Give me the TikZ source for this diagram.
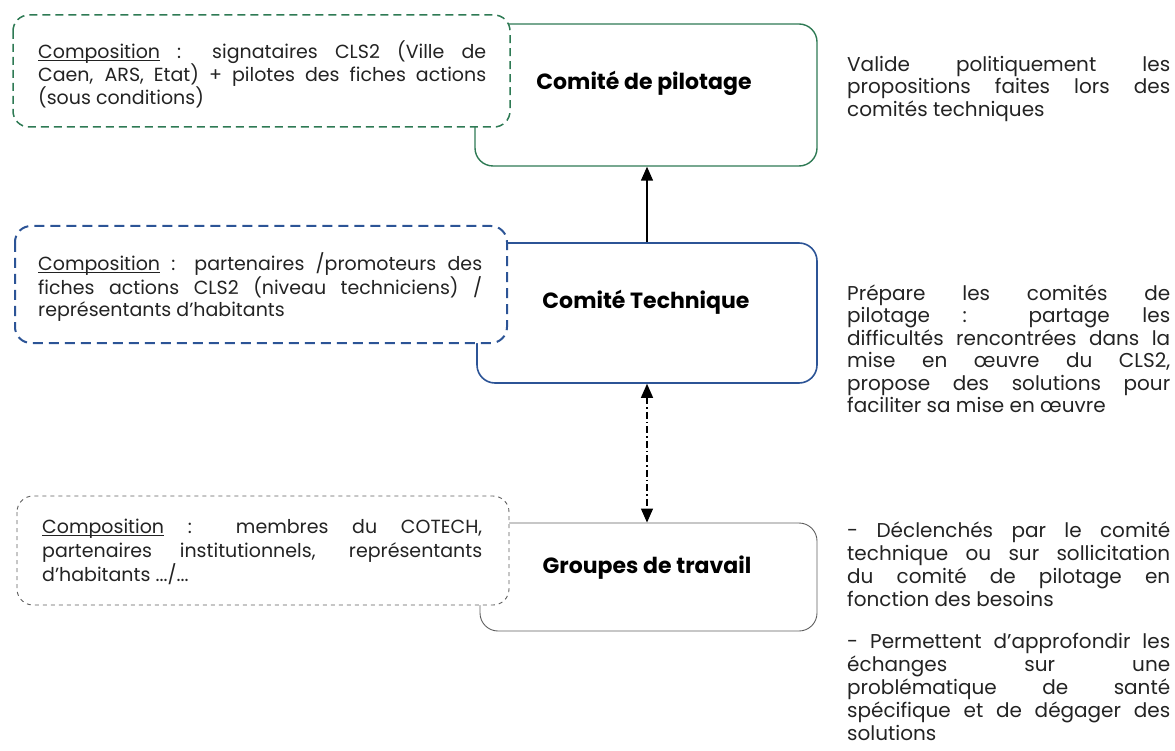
\documentclass[tikz,border=0pt]{standalone}
\usepackage{fontspec}
\setmainfont{Poppins}
\usetikzlibrary{arrows.meta}
\definecolor{cgreen}{RGB}{46,122,84}
\definecolor{cblue}{RGB}{44,84,150}
\definecolor{cgrey}{RGB}{95,95,95}
\definecolor{ctext}{RGB}{35,35,35}
\newcommand{\jl}[2]{\makebox[#1][s]{#2}}
\newcommand{\topstrut}{\rule{0pt}{20pt}}
\newcommand{\ulc}[1]{\setbox0=\hbox{#1}\rlap{\rule[-3pt]{\wd0}{0.8pt}}\box0\relax}
\begin{document}
\begin{tikzpicture}[x=1pt,y=-1pt,
  body/.style={inner sep=0pt, anchor=north west, align=left, text=ctext,
    font=\fontsize{19}{23}\selectfont},
  rbody/.style={body, font=\fontsize{20}{22.5}\selectfont},
  label/.style={inner sep=0pt, text=black, font=\fontsize{22}{26}\selectfont\bfseries},
  solidbox/.style={draw, rounded corners=18pt, inner sep=0pt},
  dashbox/.style={draw, rounded corners=16pt, fill=white},
  uparrow/.style={-{Triangle[length=14pt,width=12pt]}, line width=1.4pt, black},
  dasharrow/.style={{Triangle[length=14pt,width=12pt]}-{Triangle[length=14pt,width=12pt]},
    line width=1.3pt, black, dash pattern=on 7pt off 3pt on 1.5pt off 3pt},
]
\useasboundingbox (0,0) rectangle (1175,751);

% solid boxes
\node[solidbox, draw=cgreen, line width=1.4pt, minimum width=342pt, minimum height=142pt] (pil) at (646,95) {};
\node[solidbox, draw=cblue, line width=1.6pt, minimum width=340pt, minimum height=140pt] (tech) at (647,313) {};
\node[solidbox, draw=cgrey, line width=0.9pt, minimum width=337pt, minimum height=108pt] (grp) at (648.5,577) {};

% dashed boxes
\draw[dashbox, draw=cgreen, line width=1.5pt, dash pattern=on 8pt off 5pt] (13,15) rectangle (510,127);
\draw[dashbox, draw=cblue, line width=2pt, dash pattern=on 10pt off 6pt] (15,226) rectangle (507,343);
\draw[dashbox, draw=cgrey, line width=0.9pt, dash pattern=on 4pt off 4pt] (17,496) rectangle (509,605);

% labels
\node[label] (pill) at (644,83) {Comité de pilotage};
\node[label] (techl) at (646,302) {Comité Technique};
\node[label] (grpl) at (647,568) {Groupes de travail};

% connectors
\draw[uparrow] (tech.north) -- (tech.north |- pil.south);
\draw[dasharrow] (tech.south) -- (tech.south |- grp.north);

% composition texts
\node[body] (gcomp) at (38,38) {\topstrut\jl{448pt}{\ulc{Composition} : signataires CLS2 (Ville de}\\
\jl{448pt}{Caen, ARS, Etat) + pilotes des fiches actions}\\
(sous conditions)};
\node[body, font=\fontsize{19}{22.5}\selectfont] (bcomp) at (38,250) {\topstrut\jl{444pt}{\ulc{Composition} : partenaires /promoteurs des}\\
\jl{444pt}{fiches actions CLS2 (niveau techniciens) /}\\
représentants d'habitants};
\node[body, font=\fontsize{19}{24}\selectfont] (wcomp) at (42,513) {\topstrut\jl{440pt}{\ulc{Composition} : membres du COTECH,}\\
\jl{440pt}{partenaires institutionnels, représentants}\\
d’habitants .../...};

% right descriptions
\node[rbody] (pdesc) at (847,51) {\topstrut\jl{323pt}{Valide politiquement les}\\
\jl{323pt}{propositions faites lors des}\\
comités techniques};
\node[rbody] (tdesc) at (847,280) {\topstrut\jl{323pt}{Prépare les comités de}\\
\jl{323pt}{pilotage : partage les}\\
\jl{323pt}{difficultés rencontrées dans la}\\
\jl{323pt}{mise en œuvre du CLS2,}\\
\jl{323pt}{propose des solutions pour}\\
faciliter sa mise en œuvre};
\node[rbody, font=\fontsize{20}{23}\selectfont] (gdesc1) at (847,517) {\topstrut\jl{323pt}{- Déclenchés par le comité}\\
\jl{323pt}{technique ou sur sollicitation}\\
\jl{323pt}{du comité de pilotage en}\\
fonction des besoins};
\node[rbody, font=\fontsize{20}{23}\selectfont] (gdesc2) at (847,628) {\topstrut\jl{323pt}{- Permettent d'approfondir les}\\
\jl{323pt}{échanges sur une}\\
\jl{323pt}{problématique de santé}\\
\jl{323pt}{spécifique et de dégager des}\\
solutions};
\end{tikzpicture}
\end{document}
